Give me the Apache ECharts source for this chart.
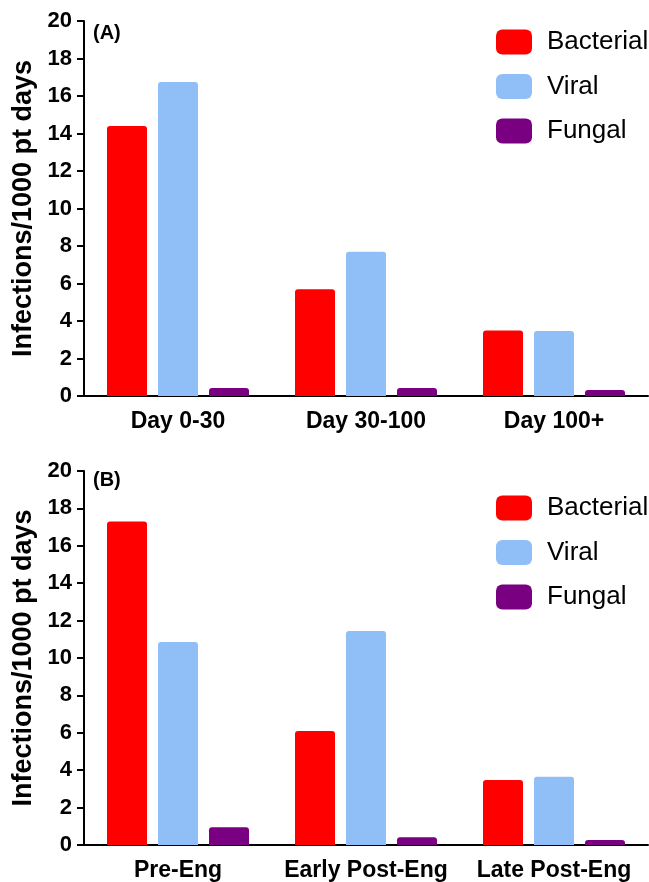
<!DOCTYPE html>
<html>
<head>
<meta charset="utf-8">
<script src="https://cdn.jsdelivr.net/npm/echarts@6/dist/echarts.min.js"></script>
<style>
    html, body { margin: 0; padding: 0; background: #fff; }
    #chart { width: 649px; height: 882px; }
</style>
</head>
<body>
<div id="chart"></div>
<script>
// 面板A：移植后天数
var groupsA = ['Day 0-30', 'Day 30-100', 'Day 100+'];
var bacterialA = [14.4, 5.7, 3.5];
var viralA = [16.75, 7.7, 3.47];
var fungalA = [0.43, 0.43, 0.32];

// 面板B：植入前后
var groupsB = ['Pre-Eng', 'Early Post-Eng', 'Late Post-Eng'];
var bacterialB = [17.3, 6.1, 3.48];
var viralB = [10.86, 11.44, 3.65];
var fungalB = [0.95, 0.41, 0.27];

var seriesNames = ['Bacterial', 'Viral', 'Fungal'];
var colors = ['#ff0000', '#90bef7', '#7a0082'];
var yTicks = [0, 20, 2]; // min, max, interval

var fontFamily = '"Liberation Sans", Arial, sans-serif';

function makeXAxis(idx, data) {
    return {
        type: 'category',
        gridIndex: idx,
        data: data,
        axisLine: { lineStyle: { color: '#000', width: 2 } },
        axisTick: { show: false },
        axisLabel: {
            interval: 0,
            hideOverlap: false,
            margin: 14,
            color: '#000',
            fontSize: 23,
            fontWeight: 'bold',
            fontFamily: fontFamily
        }
    };
}

function makeYAxis(idx) {
    return {
        type: 'value',
        gridIndex: idx,
        min: yTicks[0],
        max: yTicks[1],
        interval: yTicks[2],
        name: 'Infections/1000 pt days',
        nameLocation: 'middle',
        nameGap: 44,
        nameTextStyle: {
            color: '#000',
            fontSize: 27,
            fontWeight: 'bold',
            fontFamily: fontFamily
        },
        splitLine: { show: false },
        axisLine: { show: true, lineStyle: { color: '#000', width: 2 } },
        axisTick: { show: true, length: 7, lineStyle: { color: '#000', width: 2 } },
        axisLabel: {
            margin: 12,
            color: '#000',
            fontSize: 22,
            fontWeight: 'bold',
            fontFamily: fontFamily
        }
    };
}

function makeBar(name, idx, data, color) {
    return {
        name: name,
        type: 'bar',
        xAxisIndex: idx,
        yAxisIndex: idx,
        data: data,
        barWidth: 40,
        barGap: '27.5%',
        itemStyle: { color: color, borderRadius: [3, 3, 0, 0] }
    };
}

function makeLegend(top) {
    return {
        data: seriesNames,
        orient: 'vertical',
        left: 496,
        top: top,
        padding: 0,
        itemWidth: 36,
        itemHeight: 25,
        itemGap: 18.5,
        icon: 'roundRect',
        textStyle: {
            color: '#000',
            fontSize: 26,
            fontFamily: fontFamily,
            padding: [0, 0, 0, 10]
        }
    };
}

var chart = echarts.init(document.getElementById('chart'), null, { renderer: 'canvas' });

var option = {
    animation: false,
    backgroundColor: '#fff',
    color: colors,
    title: [
        { text: '(A)', left: 93, top: 23, padding: 0,
          textStyle: { fontSize: 20, fontWeight: 'bold', color: '#000', fontFamily: fontFamily } },
        { text: '(B)', left: 93, top: 470, padding: 0,
          textStyle: { fontSize: 20, fontWeight: 'bold', color: '#000', fontFamily: fontFamily } }
    ],
    legend: [makeLegend(29), makeLegend(495)],
    grid: [
        { left: 84, right: 1, top: 21, height: 375 },
        { left: 84, right: 1, top: 471, height: 374 }
    ],
    xAxis: [makeXAxis(0, groupsA), makeXAxis(1, groupsB)],
    yAxis: [makeYAxis(0), makeYAxis(1)],
    series: [
        makeBar(seriesNames[0], 0, bacterialA, colors[0]),
        makeBar(seriesNames[1], 0, viralA, colors[1]),
        makeBar(seriesNames[2], 0, fungalA, colors[2]),
        makeBar(seriesNames[0], 1, bacterialB, colors[0]),
        makeBar(seriesNames[1], 1, viralB, colors[1]),
        makeBar(seriesNames[2], 1, fungalB, colors[2])
    ]
};

chart.setOption(option);
</script>
</body>
</html>
